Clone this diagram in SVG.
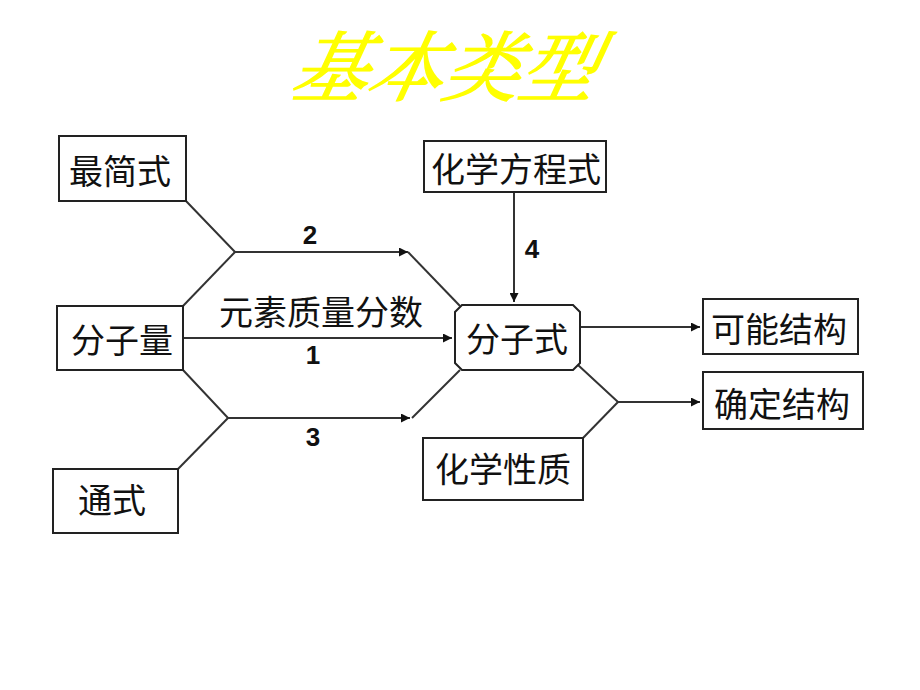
<svg xmlns="http://www.w3.org/2000/svg" width="920" height="690" viewBox="0 0 920 690">
<style>
.box{fill:#fff;stroke:#222;stroke-width:2}
.t{font-family:"Noto Sans CJK SC","Liberation Sans",sans-serif;font-size:34px;fill:#111;text-anchor:middle;dominant-baseline:central}
.n{font-family:"Liberation Sans",Arial,sans-serif;font-weight:bold;font-size:26px;fill:#111;text-anchor:middle;dominant-baseline:central}
.ln{fill:none;stroke:#333;stroke-width:2}
</style>
<defs>
<marker id="ah" viewBox="0 0 10 10" refX="10" refY="5" markerWidth="10" markerHeight="9" markerUnits="userSpaceOnUse" orient="auto">
<path d="M0,0 L10,5 L0,10 z" fill="#111"/>
</marker>
</defs>
<rect width="920" height="690" fill="#fff"/>
<g id="title">
<text x="447" y="62" font-family="'Noto Serif CJK SC','Noto Sans CJK SC',serif" font-size="76" font-style="italic" fill="#ffff00" stroke="#ffff00" stroke-width="1.4" text-anchor="middle" dominant-baseline="central" transform="translate(447 62) skewX(-12) translate(-447 -62)">基本类型</text>
</g>
<g id="connectors">
<polyline class="ln" points="186,201 235,252 408,252" marker-end="url(#ah)"/>
<polyline class="ln" points="183,306 235,252"/>
<polyline class="ln" points="408,252 460,306"/>
<line class="ln" x1="183" y1="338" x2="452" y2="338" marker-end="url(#ah)"/>
<polyline class="ln" points="183,370 228,418 410,418" marker-end="url(#ah)"/>
<polyline class="ln" points="178,469 228,418"/>
<polyline class="ln" points="412,418 460,370"/>
<line class="ln" x1="514" y1="192" x2="514" y2="302" marker-end="url(#ah)"/>
<line class="ln" x1="580" y1="327" x2="700" y2="327" marker-end="url(#ah)"/>
<polyline class="ln" points="578,365 618,402 700,402" marker-end="url(#ah)"/>
<polyline class="ln" points="583,438 618,402"/>
<text class="n" x="310" y="235">2</text>
<text class="n" x="313" y="355">1</text>
<text class="n" x="313" y="437">3</text>
<text class="n" x="532" y="249">4</text>
<text class="t" x="321" y="310">元素质量分数</text>
</g>
<g id="zuijianshi">
<rect class="box" x="59" y="136" width="127" height="65"/>
<text class="t" x="120" y="169">最简式</text>
</g>
<g id="fenziliang">
<rect class="box" x="57" y="306" width="126" height="64"/>
<text class="t" x="122" y="338">分子量</text>
</g>
<g id="tongshi">
<rect class="box" x="53" y="469" width="125" height="64"/>
<text class="t" x="112" y="498">通式</text>
</g>
<g id="huaxuefangchengshi">
<rect class="box" x="424" y="141" width="182" height="51"/>
<text class="t" x="516" y="167">化学方程式</text>
</g>
<g id="fenzishi">
<path class="box" d="M462,305 H573 L580,312 V363 L573,370 H462 L455,363 V312 Z"/>
<text class="t" x="517" y="337">分子式</text>
</g>
<g id="kenengjiegou">
<rect class="box" x="703" y="299" width="155" height="55"/>
<text class="t" x="779" y="327">可能结构</text>
</g>
<g id="quedingjiegou">
<rect class="box" x="703" y="372" width="160" height="57"/>
<text class="t" x="782" y="402">确定结构</text>
</g>
<g id="huaxuexingzhi">
<rect class="box" x="423" y="438" width="160" height="62"/>
<text class="t" x="503" y="467">化学性质</text>
</g>
</svg>
